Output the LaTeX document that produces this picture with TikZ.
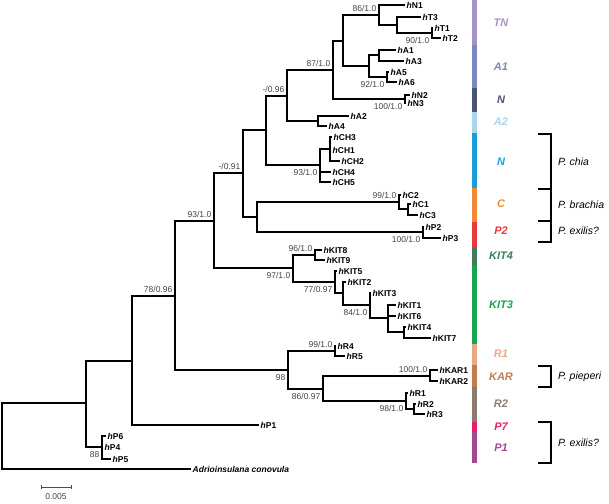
\documentclass[tikz,border=0pt]{standalone}
\usepackage{fontspec}
\setmainfont{Liberation Sans}

\definecolor{cTN}{HTML}{A592C6}
\definecolor{cA1}{HTML}{7E86C0}
\definecolor{cNd}{HTML}{4A5374}
\definecolor{cA2}{HTML}{A8D6EC}
\definecolor{cN}{HTML}{1A9DD9}
\definecolor{cC}{HTML}{F28A35}
\definecolor{cP2}{HTML}{E63A3C}
\definecolor{cKITf}{HTML}{3F7C58}
\definecolor{cKITt}{HTML}{1AA352}
\definecolor{cR1}{HTML}{EBA888}
\definecolor{cKAR}{HTML}{C47B53}
\definecolor{cR2}{HTML}{8B7B71}
\definecolor{cP7}{HTML}{EA1F6B}
\definecolor{cP1}{HTML}{A5498F}
\definecolor{suptext}{HTML}{444444}

\begin{document}
\begin{tikzpicture}[x=1pt, y=-1pt,
    branch/.style={line width=1.5pt},
    tiplab/.style={anchor=west, inner sep=1pt, xshift=0.5pt, font=\fontsize{8.5}{10}\selectfont\bfseries},
    supa/.style={anchor=south east, inner sep=1pt, xshift=-1.5pt, yshift=2pt, text=suptext, font=\fontsize{8.5}{10}\selectfont},
    supb/.style={anchor=north east, inner sep=1pt, xshift=-1.5pt, yshift=-3.5pt, text=suptext, font=\fontsize{8.5}{10}\selectfont},
    clade/.style={font=\fontsize{11}{13}\selectfont\bfseries\itshape},
    species/.style={anchor=west, inner sep=1pt, font=\fontsize{10.5}{12}\selectfont\itshape},
    bracket/.style={line width=1.1pt}]
    \useasboundingbox (0,0) rectangle (609,503);

    % internal nodes
    \coordinate (r0) at (2,436);
    \coordinate (n1) at (86,403);
    \coordinate (n2) at (132,361);
    \coordinate (n3) at (175,296);
    \coordinate (n4) at (214,221);
    \coordinate (n5) at (243,173);
    \coordinate (n6) at (266,130);
    \coordinate (n7) at (287,96);
    \coordinate (n8) at (333,70);
    \coordinate (n9) at (343,41);
    \coordinate (nT) at (379,15);
    \coordinate (nT2) at (397,25);
    \coordinate (nT3) at (432,33);
    \coordinate (nA) at (369,66);
    \coordinate (nA1) at (379,55);
    \coordinate (nA5) at (387,77);
    \coordinate (nN) at (405,99);
    \coordinate (nA2) at (318,121);
    \coordinate (nCH) at (320,165);
    \coordinate (nCHa) at (330,149);
    \coordinate (nCP) at (257,217);
    \coordinate (nC) at (399,202);
    \coordinate (nC2) at (408,209);
    \coordinate (nP) at (423,232);
    \coordinate (nKIT) at (293,268);
    \coordinate (nK89) at (315,255);
    \coordinate (nK5) at (335,282);
    \coordinate (nK2) at (343,293);
    \coordinate (nK3) at (370,305);
    \coordinate (nK1) at (388,318);
    \coordinate (nK4) at (404,332);
    \coordinate (nR) at (288,370);
    \coordinate (nR45) at (335,351);
    \coordinate (nR2) at (323,389);
    \coordinate (nKAR) at (430,376);
    \coordinate (nR1) at (406,401);
    \coordinate (nR23) at (414,409);
    \coordinate (nP4) at (102,447);

    % tips
    \coordinate (hN1) at (405,5);
    \coordinate (hT3) at (421,17);
    \coordinate (hT1) at (433,28);
    \coordinate (hT2) at (441,38);
    \coordinate (hA1) at (396,50);
    \coordinate (hA3) at (404,61);
    \coordinate (hA5) at (389,72);
    \coordinate (hA6) at (397,82);
    \coordinate (hN2) at (410,95);
    \coordinate (hN3) at (406,103);
    \coordinate (hA2) at (349,116);
    \coordinate (hA4) at (327,126);
    \coordinate (hCH3) at (332,137);
    \coordinate (hCH1) at (331,150);
    \coordinate (hCH2) at (340,161);
    \coordinate (hCH4) at (331,172);
    \coordinate (hCH5) at (331,182);
    \coordinate (hC2) at (401,195);
    \coordinate (hC1) at (411,204);
    \coordinate (hC3) at (418,215);
    \coordinate (hP2) at (424,227);
    \coordinate (hP3) at (441,238);
    \coordinate (hKIT8) at (322,250);
    \coordinate (hKIT9) at (325,260);
    \coordinate (hKIT5) at (337,271);
    \coordinate (hKIT2) at (346,282);
    \coordinate (hKIT3) at (371,293);
    \coordinate (hKIT1) at (396,305);
    \coordinate (hKIT6) at (396,316);
    \coordinate (hKIT4) at (406,327);
    \coordinate (hKIT7) at (431,338);
    \coordinate (hR4) at (336,346);
    \coordinate (hR5) at (345,356);
    \coordinate (hKAR1) at (438,370);
    \coordinate (hKAR2) at (438,381);
    \coordinate (hR1) at (408,393);
    \coordinate (hR2) at (416,404);
    \coordinate (hR3) at (425,414);
    \coordinate (hP1) at (259,425);
    \coordinate (hP6) at (106,436);
    \coordinate (hP4) at (103,447);
    \coordinate (hP5) at (111,459);
    \coordinate (ad) at (191,469);

    \foreach \p/\c in {r0/n1, r0/ad, n1/n2, n1/nP4, n2/n3, n2/hP1, n3/n4, n3/nR,
        n4/n5, n4/nKIT, n5/n6, n5/nCP, n6/n7, n6/nCH, n7/n8, n7/nA2, n8/n9, n8/nN,
        n9/nT, n9/nA, nT/hN1, nT/nT2, nT2/hT3, nT2/nT3, nT3/hT1, nT3/hT2,
        nA/nA1, nA/nA5, nA1/hA1, nA1/hA3, nA5/hA5, nA5/hA6, nN/hN2, nN/hN3,
        nA2/hA2, nA2/hA4, nCH/nCHa, nCH/hCH4, nCH/hCH5, nCHa/hCH3, nCHa/hCH1, nCHa/hCH2,
        nCP/nC, nCP/nP, nC/hC2, nC/nC2, nC2/hC1, nC2/hC3, nP/hP2, nP/hP3,
        nKIT/nK89, nKIT/nK5, nK89/hKIT8, nK89/hKIT9, nK5/hKIT5, nK5/nK2, nK2/hKIT2, nK2/nK3,
        nK3/hKIT3, nK3/nK1, nK1/hKIT1, nK1/hKIT6, nK1/nK4, nK4/hKIT4, nK4/hKIT7,
        nR/nR45, nR/nR2, nR45/hR4, nR45/hR5, nR2/nKAR, nR2/nR1, nKAR/hKAR1, nKAR/hKAR2,
        nR1/hR1, nR1/nR23, nR23/hR2, nR23/hR3, nP4/hP6, nP4/hP4, nP4/hP5}
        \draw[branch] (\p) |- (\c);

    \foreach \t in {N1, T3, T1, T2, A1, A3, A5, A6, N2, N3, A2, A4, CH3, CH1, CH2, CH4, CH5,
        C2, C1, C3, P2, P3, KIT8, KIT9, KIT5, KIT2, KIT3, KIT1, KIT6, KIT4, KIT7,
        R4, R5, KAR1, KAR2, R1, R2, R3, P1, P6, P4, P5}
        \node[tiplab] (l\t) at (h\t) {\textit{h}\t};
    \node[tiplab] (lad) at (ad) {\textit{Adrioinsulana conovula}};

    % support values
    \node[supa] (s1) at (nT) {86/1.0};
    \node[supa] (s2) at (n8) {87/1.0};
    \node[supa] (s3) at (n7) {-/0.96};
    \node[supa] (s4) at (n5) {-/0.91};
    \node[supa] (s5) at (n4) {93/1.0};
    \node[supa] (s6) at (n3) {78/0.96};
    \node[supa] (s7) at (nK89) {96/1.0};
    \node[supa] (s8) at (nC) {99/1.0};
    \node[supa] (s9) at (nR45) {99/1.0};
    \node[supa] (s10) at (nKAR) {100/1.0};
    \node[supb] (s11) at (nT3) {90/1.0};
    \node[supb] (s12) at (nA5) {92/1.0};
    \node[supb] (s13) at (nN) {100/1.0};
    \node[supb] (s14) at (nCH) {93/1.0};
    \node[supb] (s15) at (nP) {100/1.0};
    \node[supb] (s16) at (nKIT) {97/1.0};
    \node[supb] (s17) at (nK5) {77/0.97};
    \node[supb] (s18) at (nK3) {84/1.0};
    \node[supb] (s19) at (nR) {98};
    \node[supb] (s20) at (nR2) {86/0.97};
    \node[supb] (s21) at (nR1) {98/1.0};
    \node[supb] (s22) at (nP4) {88};

    % scale bar
    \draw[gray!60!black, line width=0.8pt] (41,487) -- (71,487);
    \draw[gray!60!black, line width=0.8pt] (41,485) -- (41,489);
    \draw[gray!60!black, line width=0.8pt] (71,485) -- (71,489);
    \node[text=suptext, font=\fontsize{8.5}{10}\selectfont] (scl) at (56,497) {0.005};

    % clade bar
    \foreach \a/\b/\col in {0/45/cTN, 45/88/cA1, 88/112/cNd, 112/133/cA2, 133/188/cN,
        188/222/cC, 222/247/cP2, 247/265/cKITf, 265/344/cKITt, 344/365/cR1,
        365/387/cKAR, 387/422/cR2, 422/432/cP7, 432/463/cP1}
        \fill[\col] (472.3,\a) rectangle (476.7,\b);

    \node[clade, text=cTN] (kTN) at (501,23) {TN};
    \node[clade, text=cA1] (kA1) at (501,67) {A1};
    \node[clade, text=cNd] (kNd) at (501,100) {N};
    \node[clade, text=cA2] (kA2) at (501,122) {A2};
    \node[clade, text=cN] (kN) at (501,162) {N};
    \node[clade, text=cC] (kC) at (501,204) {C};
    \node[clade, text=cP2] (kP2) at (501,231) {P2};
    \node[clade, text=cKITf] (kKITf) at (501,256) {KIT4};
    \node[clade, text=cKITt] (kKITt) at (501,305) {KIT3};
    \node[clade, text=cR1] (kR1) at (501,354) {R1};
    \node[clade, text=cKAR] (kKAR) at (501,377) {KAR};
    \node[clade, text=cR2] (kR2) at (501,404) {R2};
    \node[clade, text=cP7] (kP7) at (501,427) {P7};
    \node[clade, text=cP1] (kP1) at (501,448) {P1};

    % species brackets
    \draw[bracket] (538,134) -- (551,134) -- (551,242) -- (538,242);
    \draw[bracket] (538,189) -- (551,189);
    \draw[bracket] (538,221) -- (551,221);
    \draw[bracket] (538,366) -- (551,366) -- (551,387) -- (538,387);
    \draw[bracket] (538,422) -- (551,422) -- (551,463) -- (538,463);
    \node[species] (sp1) at (557,162) {P. chia};
    \node[species] (sp2) at (557,205) {P. brachia};
    \node[species] (sp3) at (557,231) {P. exilis?};
    \node[species] (sp4) at (557,377) {P. pieperi};
    \node[species] (sp5) at (557,443) {P. exilis?};
\end{tikzpicture}
\end{document}
